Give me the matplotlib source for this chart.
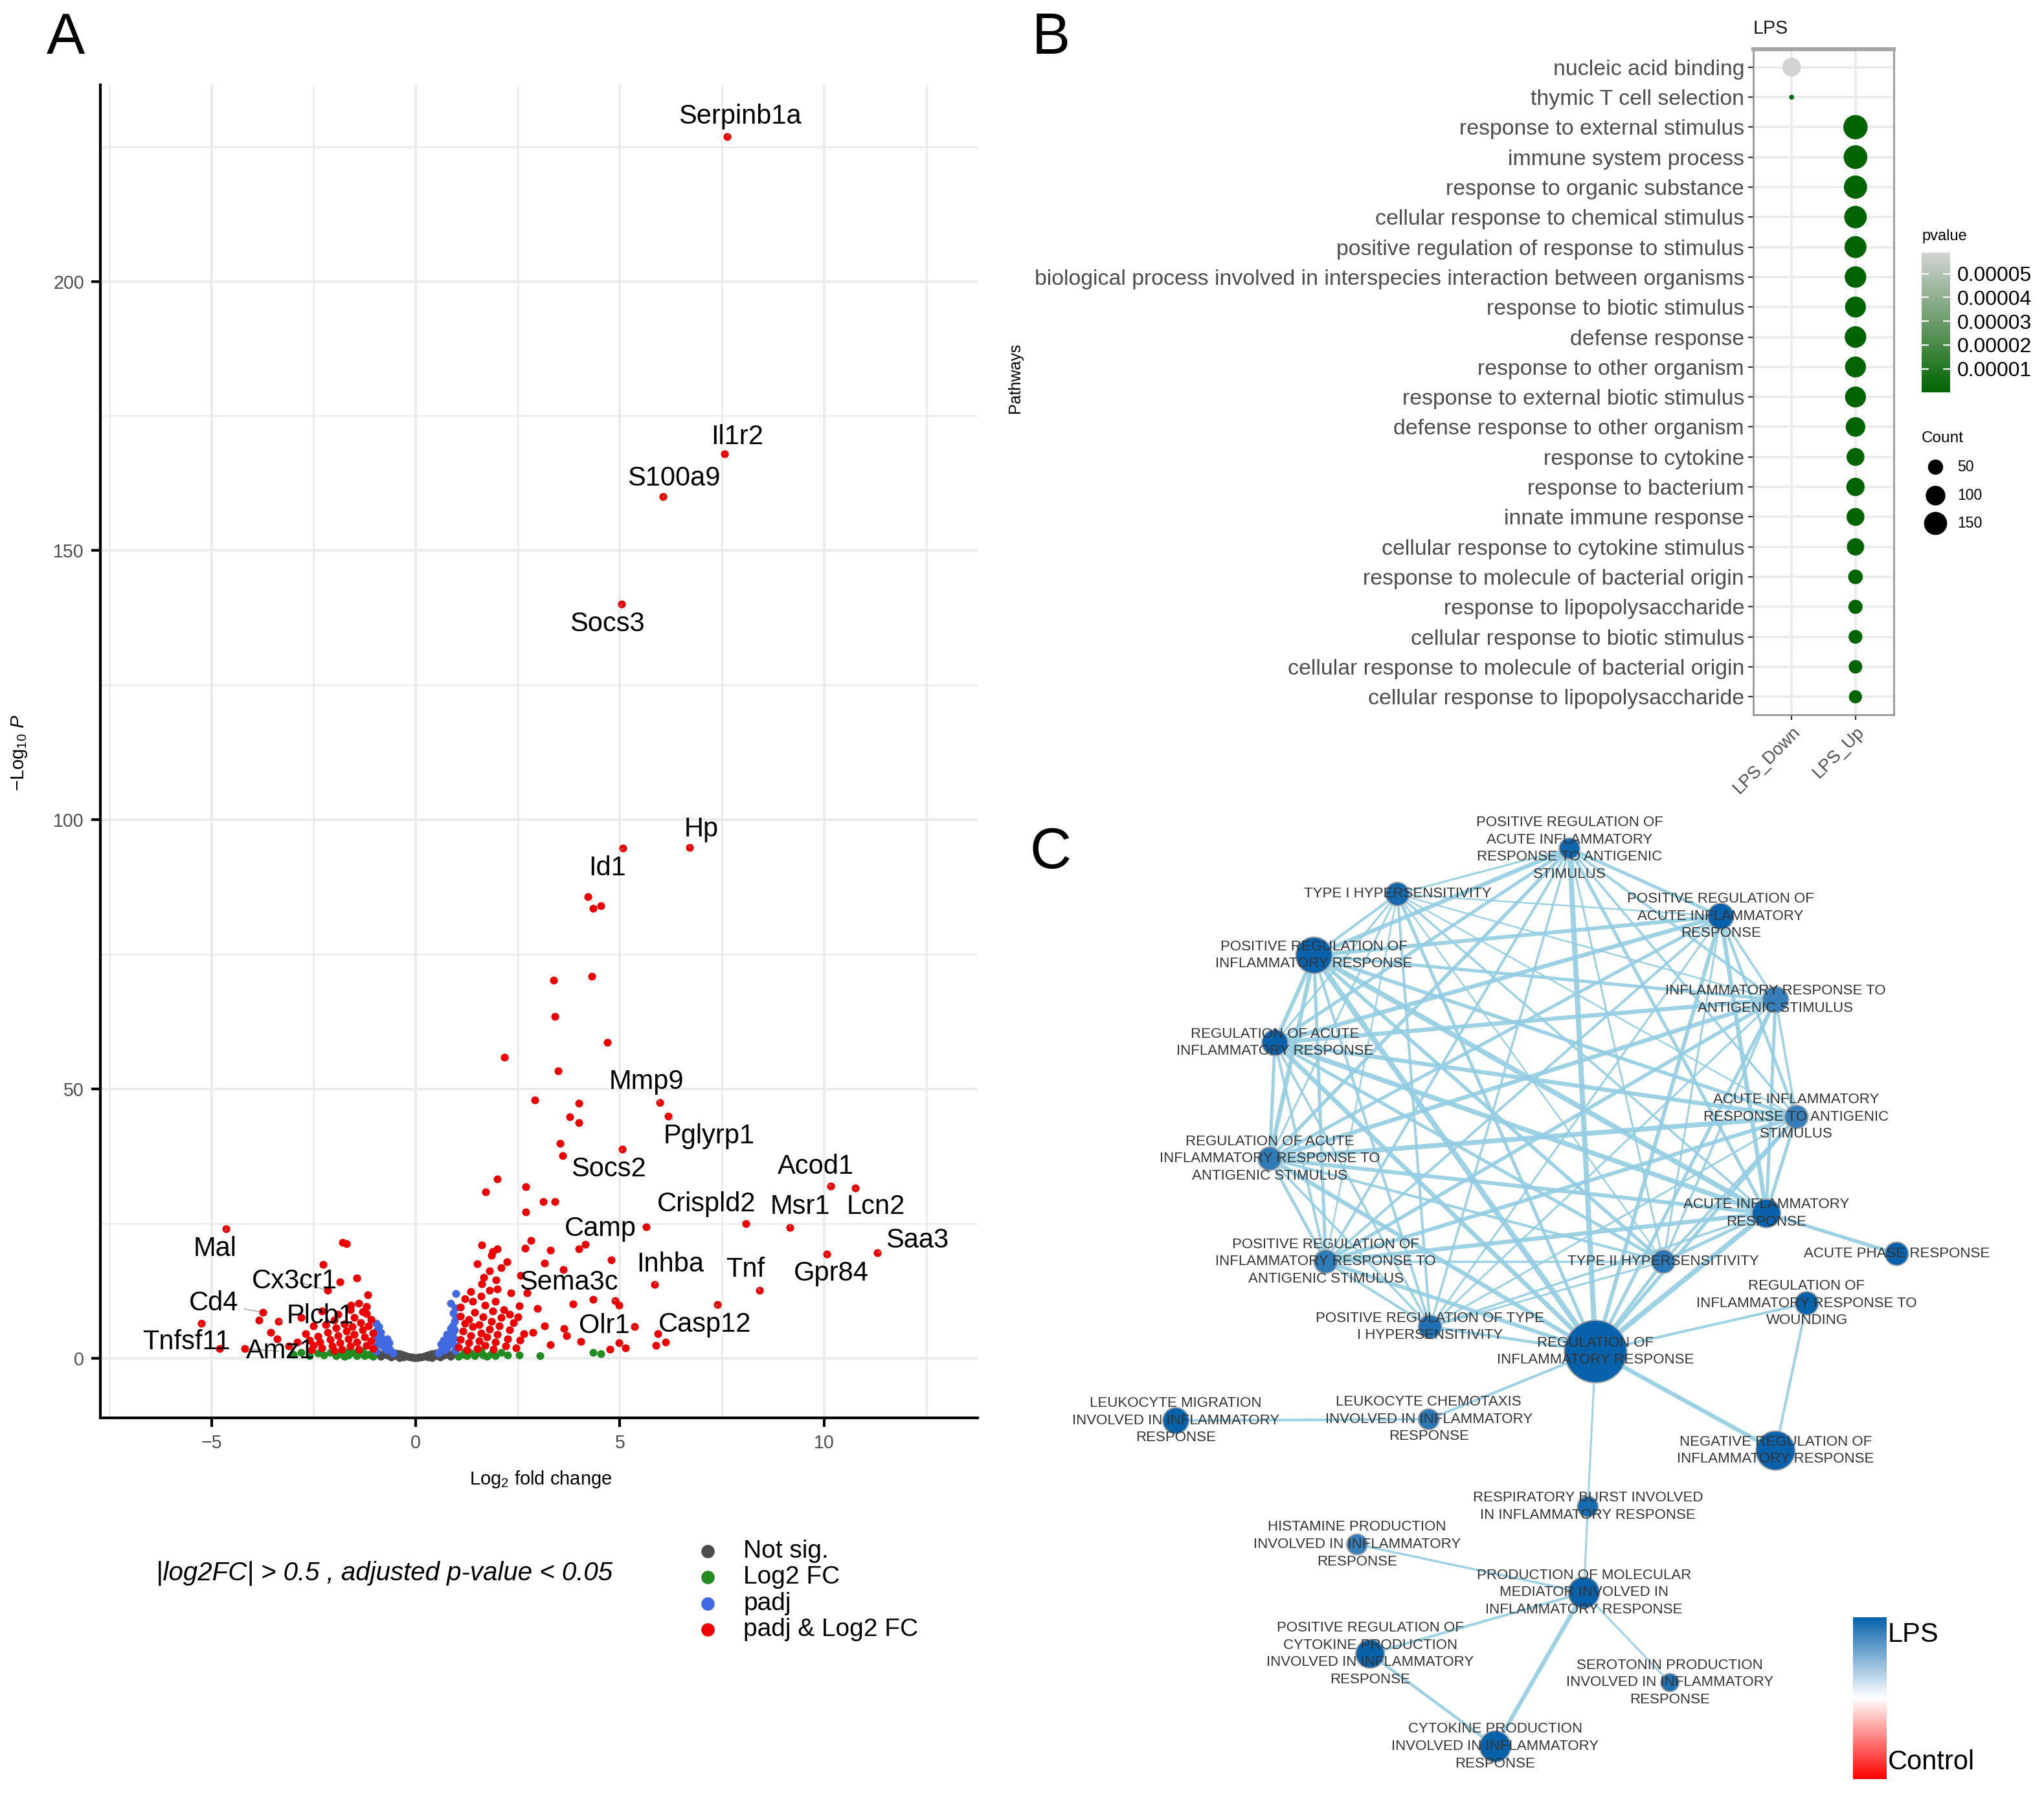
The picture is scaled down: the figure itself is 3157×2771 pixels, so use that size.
import matplotlib

matplotlib.use("Agg")
import matplotlib.pyplot as plt
from matplotlib.colors import LinearSegmentedColormap, Normalize
from matplotlib.cm import ScalarMappable
import numpy as np

plt.rcParams["font.family"] = ["Liberation Sans", "DejaVu Sans"]
plt.rcParams["mathtext.fontset"] = "custom"
plt.rcParams["mathtext.rm"] = "Liberation Sans"
plt.rcParams["mathtext.it"] = "Liberation Sans:italic"

W, H, DPI = 3157, 2771, 200

# ---------------- A: volcano plot values (log2FC, -log10 P) ----------------
red_pts = np.array([
    (4.21, 85.7), (4.34, 83.5), (4.53, 84.0), (3.38, 70.2), (4.31, 70.9), (3.41, 63.4),
    (4.69, 58.6), (2.17, 55.9), (3.48, 53.3), (2.92, 47.9), (3.99, 47.3), (3.77, 44.8),
    (4.0, 43.7), (3.53, 39.9), (3.60, 37.6), (2.0, 33.3), (1.72, 30.9), (2.70, 31.8),
    (3.12, 29.1), (3.41, 29.1), (2.70, 27.1), (2.82, 21.9), (1.61, 21.0), (1.99, 20.3),
    (1.89, 19.8), (2.68, 20.4), (3.30, 20.1), (4.0, 20.3), (4.16, 21.1), (1.85, 19.1),
    (2.24, 17.9), (3.15, 17.6), (3.61, 16.4), (4.79, 18.2), (1.66, 15.0), (1.97, 14.5),
    (1.62, 13.8), (2.57, 15.4), (2.73, 12.1), (1.81, 12.6), (2.33, 12.1), (4.34, 10.9),
    (3.85, 10.1), (4.97, 9.8), (2.54, 9.76), (2.98, 9.2), (1.88, 8.8), (1.10, 9.5),
    (3.15, 6.0), (3.63, 5.5), (2.87, 4.8), (5.93, 4.5), (6.12, 3.0), (5.88, 2.4),
    (4.04, 3.1), (4.97, 2.9), (5.13, 1.9), (4.75, 1.7), (3.7, 4.2), (3.3, 2.5),
    (1.05, 2.0), (1.1, 3.5), (1.15, 5.0), (1.2, 6.5), (1.1, 7.8), (1.25, 1.5),
    (1.3, 2.8), (1.35, 4.2), (1.4, 5.8), (1.3, 7.2), (1.45, 8.5), (1.5, 1.8),
    (1.55, 3.2), (1.6, 4.6), (1.55, 6.2), (1.65, 7.6), (1.7, 2.4), (1.75, 3.9),
    (1.8, 5.4), (1.85, 6.8), (1.9, 1.6), (1.95, 3.0), (2.0, 4.4), (2.05, 6.0),
    (2.1, 7.5), (1.7, 9.8), (1.95, 10.6), (2.2, 2.2), (2.25, 3.6), (2.3, 5.2),
    (2.4, 6.6), (2.15, 9.0), (1.4, 10.5), (1.6, 11.5), (2.0, 12.8), (2.45, 1.9),
    (2.55, 3.3), (2.65, 4.5), (1.2, 11.0), (1.35, 12.4), (2.3, 8.2), (2.5, 7.6),
    (1.8, 16.2), (2.1, 16.8), (1.5, 17.5),
    (-1.69, 21.2), (-1.79, 21.5), (-2.26, 17.4), (-1.45, 14.9), (-1.85, 14.1),
    (-1.17, 11.7), (-1.58, 9.8), (-1.21, 8.3), (-3.83, 7.1), (-3.55, 4.8),
    (-3.39, 3.6), (-4.81, 1.8), (-2.9, 3.0), (-3.1, 2.2), (-2.7, 4.5), (-2.5, 6.0),
    (-2.8, 7.5), (-1.05, 1.8), (-1.1, 3.2), (-1.05, 4.6), (-1.15, 6.0), (-1.1, 7.2),
    (-1.2, 2.4), (-1.25, 3.9), (-1.3, 5.3), (-1.35, 6.6), (-1.4, 1.6), (-1.45, 3.0),
    (-1.5, 4.4), (-1.55, 5.8), (-1.5, 7.5), (-1.6, 2.2), (-1.65, 3.6), (-1.7, 5.0),
    (-1.75, 6.3), (-1.8, 1.7), (-1.85, 2.9), (-1.9, 4.2), (-1.95, 5.6), (-2.0, 7.0),
    (-2.05, 2.3), (-2.1, 3.5), (-2.15, 4.8), (-2.2, 6.2), (-2.3, 1.9), (-2.35, 3.0),
    (-2.4, 4.1), (-2.5, 2.4), (-2.55, 1.5), (-1.3, 8.6), (-1.6, 9.0), (-1.9, 8.2),
    (-2.3, 8.8), (-1.4, 10.2), (-2.6, 3.3), (-2.0, 1.4), (-1.2, 9.6),
])

blue_pts = np.array([
    (0.55, 0.9), (0.6, 1.3), (0.65, 1.8), (0.7, 2.3), (0.75, 2.9), (0.8, 3.4),
    (0.85, 4.0), (0.9, 4.6), (0.95, 5.2), (0.72, 1.5), (0.78, 2.0), (0.83, 2.6),
    (0.88, 3.1), (0.93, 3.7), (0.98, 2.2), (0.96, 1.4), (0.9, 6.0), (0.95, 6.8),
    (0.85, 5.5), (0.99, 7.6), (0.92, 8.4), (0.97, 9.3), (0.98, 12.0), (0.86, 10.2),
    (0.62, 2.6), (0.68, 3.3), (0.76, 4.4),
    (-0.55, 0.9), (-0.6, 1.3), (-0.65, 1.8), (-0.7, 2.3), (-0.75, 2.8), (-0.8, 3.3),
    (-0.85, 3.9), (-0.9, 4.5), (-0.95, 5.1), (-0.72, 1.5), (-0.78, 2.0), (-0.83, 2.5),
    (-0.88, 3.0), (-0.93, 3.6), (-0.98, 2.1), (-0.96, 1.3), (-0.9, 5.8), (-0.97, 6.5),
    (-0.85, 4.8), (-0.99, 4.0), (-0.65, 2.8), (-0.7, 3.6),
])

grey_pts = np.array([
    (0.0, 0.05), (0.05, 0.1), (-0.05, 0.1), (0.1, 0.15), (-0.1, 0.15), (0.15, 0.25),
    (-0.15, 0.25), (0.2, 0.35), (-0.2, 0.35), (0.25, 0.45), (-0.25, 0.45), (0.3, 0.55),
    (-0.3, 0.55), (0.35, 0.65), (-0.35, 0.65), (0.4, 0.75), (-0.4, 0.75), (0.45, 0.85),
    (-0.45, 0.85), (0.5, 0.95), (-0.5, 0.95), (0.3, 0.2), (-0.3, 0.2), (0.5, 0.4),
    (-0.5, 0.4), (0.6, 0.5), (-0.6, 0.5), (0.7, 0.6), (-0.7, 0.6), (0.8, 0.7),
    (-0.8, 0.7), (0.9, 0.8), (-0.9, 0.8), (0.95, 1.1), (-0.95, 1.1), (0.7, 1.0),
    (-0.7, 1.0), (0.85, 0.3), (-0.85, 0.3), (0.6, 0.15), (-0.6, 0.15), (0.4, 0.1),
    (-0.4, 0.1),
])

green_pts = np.array([
    (1.05, 0.3), (1.15, 0.7), (1.25, 0.4), (1.35, 0.9), (1.45, 0.5), (1.55, 1.0),
    (1.65, 0.6), (1.75, 0.3), (1.85, 0.8), (1.95, 0.5), (2.1, 1.0), (2.25, 0.6),
    (2.54, 0.6), (3.04, 0.5), (4.34, 1.0), (4.54, 0.8), (1.2, 1.2), (1.6, 1.3),
    (-1.05, 0.3), (-1.15, 0.7), (-1.25, 0.4), (-1.35, 0.9), (-1.45, 0.5), (-1.55, 1.0),
    (-1.65, 0.6), (-1.75, 0.3), (-1.85, 0.8), (-1.95, 0.5), (-2.1, 1.0), (-2.25, 0.6),
    (-2.4, 0.9), (-2.6, 0.5), (-2.8, 1.1), (-3.0, 0.7), (-1.3, 1.3), (-1.7, 1.2),
])

gene_names = ["Serpinb1a", "Il1r2", "S100a9", "Socs3", "Hp", "Id1", "Mmp9", "Pglyrp1",
              "Socs2", "Acod1", "Lcn2", "Crispld2", "Msr1", "Camp", "Saa3", "Gpr84",
              "Inhba", "Tnf", "Sema3c", "Casp12", "Olr1", "Mal", "Cx3cr1", "Cd4",
              "Plcb1", "Tnfsf11", "Amz1"]
gene_x = [7.63, 7.56, 6.06, 5.04, 6.70, 5.07, 5.98, 6.18, 5.06, 10.16, 10.76, 8.08, 9.16,
          5.65, 11.31, 10.06, 5.85, 8.42, 4.89, 7.38, 5.36, -4.64, -2.16, -3.74, -3.36,
          -5.25, -4.18]
gene_y = [226.9, 168.0, 160.0, 140.0, 94.9, 94.7, 47.5, 44.9, 38.8, 31.9, 31.6, 25.0, 24.3,
          24.4, 19.6, 19.3, 13.7, 12.6, 10.7, 9.95, 5.9, 24.0, 12.6, 8.5, 6.8, 6.5, 1.8]

# label offsets in points (style, not data)
label_offset = {
    "Serpinb1a": (7, 11), "Il1r2": (7, 9.4), "S100a9": (5.8, 10), "Socs3": (-8, -11),
    "Hp": (6.5, 10), "Id1": (-8.7, -11), "Mmp9": (-7.5, 11.5), "Pglyrp1": (22.7, -11),
    "Socs2": (-7.7, -11), "Acod1": (-8.3, 11), "Lcn2": (11.5, -10.5), "Crispld2": (-21.9, 10.7),
    "Msr1": (5.7, 11.3), "Camp": (-25.4, -1.3), "Saa3": (22, 6.6), "Gpr84": (2.7, -10.7),
    "Inhba": (8.5, 11.2), "Tnf": (-7.9, 11.6), "Sema3c": (-26, 10), "Casp12": (-6.7, -11),
    "Olr1": (-16.7, 0.4), "Mal": (-6.2, -11), "Cx3cr1": (-18.3, 5.1), "Cd4": (-27.4, 5),
    "Plcb1": (23.4, 2.8), "Tnfsf11": (-8.3, -10.7), "Amz1": (19.6, -1.7),
}

# ---------------- B: GO dot plot ----------------
pathways = [
    "nucleic acid binding", "thymic T cell selection", "response to external stimulus",
    "immune system process", "response to organic substance",
    "cellular response to chemical stimulus", "positive regulation of response to stimulus",
    "biological process involved in interspecies interaction between organisms",
    "response to biotic stimulus", "defense response", "response to other organism",
    "response to external biotic stimulus", "defense response to other organism",
    "response to cytokine", "response to bacterium", "innate immune response",
    "cellular response to cytokine stimulus", "response to molecule of bacterial origin",
    "response to lipopolysaccharide", "cellular response to biotic stimulus",
    "cellular response to molecule of bacterial origin",
    "cellular response to lipopolysaccharide",
]
groups = ["LPS_Down", "LPS_Up"]
path_group = ["LPS_Down", "LPS_Down"] + ["LPS_Up"] * 20
path_count = [88, 3, 170, 160, 152, 141, 132, 126, 117, 126, 117, 117, 99, 78, 83, 78,
              71, 45, 41, 38, 36, 33]
path_pvalue = [5.885e-5, 2.0e-6, 1e-30, 1e-29, 1e-28, 1e-26, 1e-24, 1e-23, 1e-22, 1e-22,
               1e-21, 1e-21, 1e-19, 1e-17, 1e-16, 1e-15, 1e-15, 1e-13, 1e-13, 1e-12,
               1e-12, 1e-11]

# ---------------- C: enrichment network ----------------
node_labels = [
    "POSITIVE REGULATION OF\nACUTE INFLAMMATORY\nRESPONSE TO ANTIGENIC\nSTIMULUS",
    "TYPE I HYPERSENSITIVITY",
    "POSITIVE REGULATION OF\nACUTE INFLAMMATORY\nRESPONSE",
    "POSITIVE REGULATION OF\nINFLAMMATORY RESPONSE",
    "INFLAMMATORY RESPONSE TO\nANTIGENIC STIMULUS",
    "REGULATION OF ACUTE\nINFLAMMATORY RESPONSE",
    "ACUTE INFLAMMATORY\nRESPONSE TO ANTIGENIC\nSTIMULUS",
    "REGULATION OF ACUTE\nINFLAMMATORY RESPONSE TO\nANTIGENIC STIMULUS",
    "ACUTE INFLAMMATORY\nRESPONSE",
    "ACUTE PHASE RESPONSE",
    "POSITIVE REGULATION OF\nINFLAMMATORY RESPONSE TO\nANTIGENIC STIMULUS",
    "TYPE II HYPERSENSITIVITY",
    "REGULATION OF\nINFLAMMATORY RESPONSE TO\nWOUNDING",
    "POSITIVE REGULATION OF TYPE\nI HYPERSENSITIVITY",
    "REGULATION OF\nINFLAMMATORY RESPONSE",
    "LEUKOCYTE MIGRATION\nINVOLVED IN INFLAMMATORY\nRESPONSE",
    "LEUKOCYTE CHEMOTAXIS\nINVOLVED IN INFLAMMATORY\nRESPONSE",
    "NEGATIVE REGULATION OF\nINFLAMMATORY RESPONSE",
    "RESPIRATORY BURST INVOLVED\nIN INFLAMMATORY RESPONSE",
    "HISTAMINE PRODUCTION\nINVOLVED IN INFLAMMATORY\nRESPONSE",
    "PRODUCTION OF MOLECULAR\nMEDIATOR INVOLVED IN\nINFLAMMATORY RESPONSE",
    "POSITIVE REGULATION OF\nCYTOKINE PRODUCTION\nINVOLVED IN INFLAMMATORY\nRESPONSE",
    "SEROTONIN PRODUCTION\nINVOLVED IN INFLAMMATORY\nRESPONSE",
    "CYTOKINE PRODUCTION\nINVOLVED IN INFLAMMATORY\nRESPONSE",
]
node_x = [1204, 1072, 1320, 1008, 1362, 978, 1378, 974, 1355, 1455, 1017, 1276, 1386,
          1097, 1224, 902, 1096, 1362, 1218, 1041, 1215, 1051, 1281, 1147]
node_y = [651, 686, 703, 733, 767, 800, 857, 889, 931, 962, 968, 968, 1000, 1018, 1037,
          1090, 1089, 1113, 1156, 1185, 1222, 1269, 1291, 1340]
node_size = [8, 9, 10, 14, 10, 10, 9, 9, 11, 9, 9, 9, 9, 9, 24, 10, 8, 15, 8, 8, 12, 11,
             7, 12]
node_score = [0.97, 0.95, 1.0, 1.0, 0.82, 1.0, 0.82, 0.84, 1.0, 1.0, 0.84, 0.86, 1.0, 0.9,
              1.0, 1.0, 0.86, 1.0, 0.93, 0.82, 1.0, 1.0, 0.9, 1.0]
edges = [
    (0, 1, 1.2), (0, 2, 2.0), (0, 3, 2.6), (0, 4, 1.6), (0, 5, 2.0), (0, 6, 1.4), (0, 7, 2.2),
    (0, 8, 2.0), (0, 10, 1.6), (0, 11, 1.2), (0, 13, 1.4), (0, 14, 3.2),
    (1, 2, 1.0), (1, 3, 1.6), (1, 4, 1.0), (1, 5, 1.2), (1, 6, 1.0), (1, 7, 1.2), (1, 8, 1.4),
    (1, 10, 1.0), (1, 11, 1.0), (1, 13, 1.6), (1, 14, 2.0),
    (2, 3, 2.4), (2, 4, 1.4), (2, 5, 2.6), (2, 6, 1.8), (2, 7, 2.0), (2, 8, 2.6), (2, 10, 1.6),
    (2, 11, 1.2), (2, 13, 1.2), (2, 14, 2.4),
    (3, 4, 2.0), (3, 5, 2.4), (3, 6, 2.2), (3, 7, 2.6), (3, 8, 3.2), (3, 10, 2.0), (3, 11, 2.2),
    (3, 13, 1.6), (3, 14, 3.4),
    (4, 5, 2.6), (4, 6, 1.4), (4, 7, 2.6), (4, 8, 2.0), (4, 10, 2.2), (4, 11, 1.4), (4, 13, 1.2),
    (4, 14, 2.0),
    (5, 6, 2.6), (5, 7, 2.0), (5, 8, 3.0), (5, 10, 1.6), (5, 11, 2.0), (5, 13, 1.4), (5, 14, 2.8),
    (6, 7, 3.0), (6, 8, 2.0), (6, 10, 2.4), (6, 11, 1.6), (6, 13, 1.2), (6, 14, 2.2),
    (7, 8, 2.4), (7, 10, 1.8), (7, 11, 1.6), (7, 13, 1.4), (7, 14, 2.6),
    (8, 10, 2.6), (8, 11, 2.0), (8, 13, 1.4), (8, 14, 3.2),
    (10, 11, 1.4), (10, 13, 1.6), (10, 14, 2.4),
    (11, 13, 1.2), (11, 14, 2.0), (13, 14, 1.8),
    (8, 9, 2.2), (14, 12, 1.6), (14, 17, 2.6), (12, 17, 1.6), (14, 16, 1.6), (15, 16, 1.6),
    (14, 18, 1.2), (18, 20, 1.2), (19, 20, 1.4), (21, 20, 1.6), (22, 20, 1.2), (23, 20, 2.6),
    (21, 23, 1.8),
]

# ---------------- figure ----------------
fig = plt.figure(figsize=(W / DPI, H / DPI), dpi=DPI)
fig.patch.set_facecolor("white")

# ---- panel A ----
ax_a = fig.add_axes([155 / W, 1 - 2190 / H, 1355 / W, 2059 / H])
ax_a.set_xlim(-7.72, 13.76)
ax_a.set_ylim(-11.1, 236.5)
ax_a.set_xticks([-5, 0, 5, 10])
ax_a.set_xticks([-7.5, -2.5, 2.5, 7.5, 12.5], minor=True)
ax_a.set_yticks([0, 50, 100, 150, 200])
ax_a.set_yticks([25, 75, 125, 175, 225], minor=True)
ax_a.grid(which="major", color="#ebebeb", lw=1.4)
ax_a.grid(which="minor", color="#ebebeb", lw=0.9)
ax_a.set_axisbelow(True)
for side in ["top", "right"]:
    ax_a.spines[side].set_visible(False)
for side in ["left", "bottom"]:
    ax_a.spines[side].set_linewidth(1.5)
    ax_a.spines[side].set_color("black")
ax_a.tick_params(which="major", length=5, width=1.5, color="black", labelsize=10.3,
                 labelcolor="#4d4d4d", pad=4)
ax_a.tick_params(which="minor", length=0)

pt_size = 19
ax_a.scatter(grey_pts[:, 0], grey_pts[:, 1], s=pt_size, color="#4d4d4d", lw=0, zorder=2)
ax_a.scatter(green_pts[:, 0], green_pts[:, 1], s=pt_size, color="#228b22", lw=0, zorder=2)
ax_a.scatter(blue_pts[:, 0], blue_pts[:, 1], s=pt_size, color="#4169e1", lw=0, zorder=2)
ax_a.scatter(red_pts[:, 0], red_pts[:, 1], s=pt_size, color="#ee0000", lw=0, zorder=3)
ax_a.scatter(gene_x, gene_y, s=pt_size, color="#ee0000", lw=0, zorder=3)

for name, gx, gy in zip(gene_names, gene_x, gene_y):
    ax_a.annotate(name, xy=(gx, gy), xytext=label_offset[name], textcoords="offset points",
                  ha="center", va="center", fontsize=15, color="black", zorder=4,
                  arrowprops=dict(arrowstyle="-", color="#9a9a9a", lw=0.5, shrinkA=1, shrinkB=2))

# ---- panel B ----
ax_b = fig.add_axes([2708 / W, 1 - 1104 / H, 217 / W, 1028 / H])
rows = np.arange(1, len(pathways) + 1)
cols = np.array([groups.index(g) + 1 for g in path_group])
pv_cmap = LinearSegmentedColormap.from_list("pv", ["#006400", "#d3d3d3"])
pv_norm = Normalize(vmin=1e-7, vmax=5.885e-5)


def count_to_s(c):
    d_px = 7.6 + 29 * np.sqrt((np.asarray(c, dtype=float) - 3) / 157)
    return (d_px * 72 / DPI) ** 2


sc_b = ax_b.scatter(cols, rows, s=count_to_s(path_count), c=path_pvalue, cmap=pv_cmap,
                    norm=pv_norm, lw=0, zorder=3)
ax_b.set_xlim(0.4, 2.6)
ax_b.set_ylim(len(pathways) + 0.6, 0.4)
ax_b.set_xticks([1, 2])
ax_b.set_xticklabels(groups, rotation=45, ha="right", va="top", rotation_mode="anchor",
                     fontsize=9.7, color="#4d4d4d")
ax_b.set_yticks(rows)
ax_b.set_yticklabels(pathways, fontsize=12.2, color="#4d4d4d")
ax_b.tick_params(length=3, width=0.8, color="#333333", pad=2)
ax_b.grid(color="#ebebeb", lw=1.3)
ax_b.set_axisbelow(True)
for side in ax_b.spines.values():
    side.set_color("#8c8c8c")
    side.set_linewidth(0.9)
ax_b.spines["top"].set_linewidth(2.2)
ax_b.spines["top"].set_color("#a6a6a6")

cax_b = fig.add_axes([2968 / W, 1 - 606 / H, 44 / W, 216 / H])
cb_b = fig.colorbar(ScalarMappable(norm=pv_norm, cmap=pv_cmap), cax=cax_b)
cb_b.outline.set_visible(False)
cb_b.set_ticks([1e-5, 2e-5, 3e-5, 4e-5, 5e-5])
cb_b.set_ticklabels(["0.00001", "0.00002", "0.00003", "0.00004", "0.00005"])
cb_b.minorticks_off()
cax_b.tick_params(direction="in", length=4, width=0.8, color="white", left=True, right=True,
                  labelleft=False, labelright=True, labelsize=11.5, labelcolor="black", pad=4)

# ---- panel C ----
ax_c = fig.add_axes([780 / 1568, 0, 788 / 1568, 776.5 / 1376.5])
ax_c.set_xlim(780, 1568)
ax_c.set_ylim(1376.5, 600)
ax_c.axis("off")
lps_cmap = LinearSegmentedColormap.from_list("lps", ["#ff0000", "#ffffff", "#0862ab"])
lps_norm = Normalize(-1, 1)
for a, b, w in edges:
    ax_c.plot([node_x[a], node_x[b]], [node_y[a], node_y[b]], color="#93cde3",
              lw=w * 0.9, alpha=0.9, zorder=1, solid_capstyle="round")
ax_c.scatter(node_x, node_y, s=(1.45 * np.array(node_size)) ** 2, c=node_score,
             cmap=lps_cmap, norm=lps_norm, edgecolors="#a8a8a8", linewidths=0.7, zorder=2)
for lab, nx, ny in zip(node_labels, node_x, node_y):
    ax_c.text(nx, ny, lab, ha="center", va="center", fontsize=8, color="#333333",
              linespacing=1.35, zorder=3)

cax_c = fig.add_axes([2862 / W, 1 - 2748 / H, 52 / W, 250 / H])
cb_c = fig.colorbar(ScalarMappable(norm=lps_norm, cmap=lps_cmap), cax=cax_c)
cb_c.outline.set_visible(False)
cb_c.set_ticks([])

# ---- free text (pixel overlay) ----
ax_f = fig.add_axes([0, 0, 1, 1])
ax_f.set_xlim(0, W)
ax_f.set_ylim(H, 0)
ax_f.axis("off")

ax_f.text(101, 60, "A", fontsize=32, ha="center", va="center")
ax_f.text(1623, 60, "B", fontsize=32, ha="center", va="center")
ax_f.text(1623, 1318, "C", fontsize=32, ha="center", va="center")

ax_f.text(30, 1163, r"$-$Log$_{10}$ $\mathit{P}$", fontsize=10.5, rotation=90,
          ha="center", va="center")
ax_f.text(835, 2285, r"Log$_{2}$ fold change", fontsize=10.5, ha="center", va="center")
ax_f.text(594, 2430, "|log2FC| > 0.5 , adjusted p-value < 0.05", fontsize=14.5,
          fontstyle="italic", ha="center", va="center")

legend_labels = ["Not sig.", "Log2 FC", "padj", "padj & Log2 FC"]
legend_colors = ["#4d4d4d", "#228b22", "#4169e1", "#ee0000"]
for i, (lab, col) in enumerate(zip(legend_labels, legend_colors)):
    yy = 2396 + i * 40.3
    ax_f.scatter([1093], [yy], s=55, color=col, lw=0)
    ax_f.text(1148, yy, lab, fontsize=14, ha="left", va="center")

ax_f.text(2708, 44, "LPS", fontsize=10.3, ha="left", va="center", color="#1a1a1a")
ax_f.text(1568, 584, "Pathways", fontsize=9, rotation=90, ha="center", va="center")
ax_f.text(2968, 365, "pvalue", fontsize=8.5, ha="left", va="center")
ax_f.text(2968, 677, "Count", fontsize=8.8, ha="left", va="center")
for cnt, yy in zip([50, 100, 150], [721, 765, 808]):
    ax_f.scatter([2989], [yy], s=count_to_s(cnt), color="black", lw=0)
    ax_f.text(3023, yy, str(cnt), fontsize=8.3, ha="left", va="center")

ax_f.text(2916, 2525, "LPS", fontsize=15, ha="left", va="center")
ax_f.text(2916, 2722, "Control", fontsize=15, ha="left", va="center")

fig.savefig("out.png", dpi=DPI, facecolor="white")
